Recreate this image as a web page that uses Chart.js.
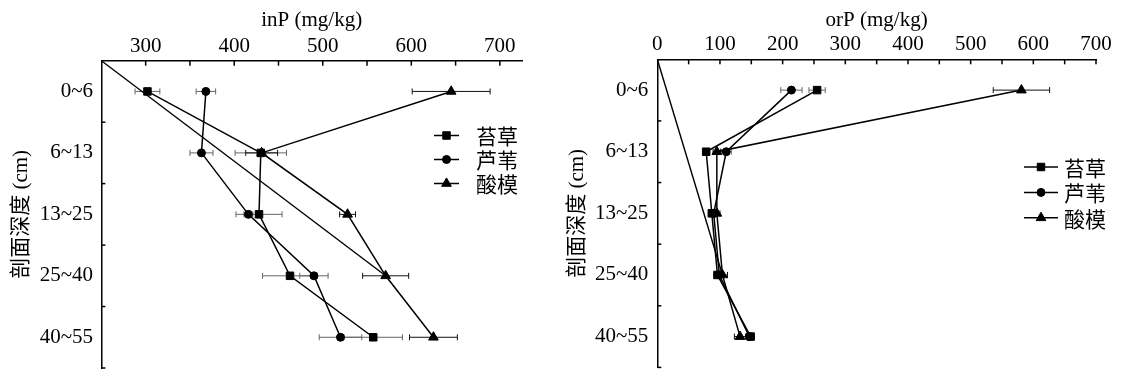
<!DOCTYPE html>
<html><head><meta charset="utf-8">
<script src="https://cdn.jsdelivr.net/npm/chart.js@4.4.0/dist/chart.umd.min.js"></script>
<style>
html,body{margin:0;padding:0;background:#fff;width:1125px;height:389px;overflow:hidden;}
canvas{position:absolute;top:0;}
#c1{left:0;}
#c2{left:560px;}
</style></head><body>
<canvas id="c1" width="560" height="389"></canvas>
<canvas id="c2" width="565" height="389"></canvas>
<script>
// ---------- data ----------
const depthLabels = ['0~6', '6~13', '13~25', '25~40', '40~55'];
const seriesNames = ['苔草', '芦苇', '酸模'];

const inPTicks = [300, 400, 500, 600, 700];
const orPTicks = [0, 100, 200, 300, 400, 500, 600, 700];

const inP_taicao = [302, 430, 428, 463, 557];
const inP_luwei  = [368, 363, 416, 490, 520];
const inP_suanmo = [645, 431, 528, 571, 625];
const inP_taicao_err = [14, 29, 26, 31, 33];
const inP_luwei_err  = [11, 13, 5, 16, 24];
const inP_suanmo_err = [44, 18, 9, 26, 27];

const orP_taicao = [255, 78, 87, 96, 149];
const orP_luwei  = [214, 110, 90, 99, 147];
const orP_suanmo = [581, 95, 95, 104, 132];
const orP_taicao_err = [13, 5, 4, 5, 5];
const orP_luwei_err  = [17, 8, 4, 5, 5];
const orP_suanmo_err = [45, 6, 5, 8, 9];

// ---------- styling ----------
const FONT = '"Liberation Serif", "Times New Roman", "Noto Sans CJK SC", serif';
const CJK = '"Noto Sans CJK SC", "Liberation Serif", serif';
const styles = [
  {pointStyle: 'rect', radius: 5.3},
  {pointStyle: 'circle', radius: 4},
  {pointStyle: 'triangle', radius: 5.6}
];
const errColors = ['#666', '#666', '#111'];

function pts(vals) { return vals.map((v, i) => ({x: v, y: i + 0.5})); }

const decor = {
  id: 'decor',
  beforeDatasetsDraw(chart, args, opts) {
    const ctx = chart.ctx, xs = chart.scales.x, ys = chart.scales.y;
    opts.values.forEach((vals, di) => {
      const errs = opts.errors[di];
      ctx.save();
      ctx.strokeStyle = errColors[di];
      ctx.lineWidth = 1;
      vals.forEach((v, i) => {
        const e = errs[i];
        if (!e) return;
        const y = ys.getPixelForValue(i + 0.5);
        const x1 = xs.getPixelForValue(v - e), x2 = xs.getPixelForValue(v + e);
        ctx.beginPath();
        ctx.moveTo(x1, y); ctx.lineTo(x2, y);
        ctx.moveTo(x1, y - 3); ctx.lineTo(x1, y + 3);
        ctx.moveTo(x2, y - 3); ctx.lineTo(x2, y + 3);
        ctx.stroke();
      });
      ctx.restore();
    });
  },
  afterDraw(chart, args, opts) {
    const ctx = chart.ctx, a = chart.chartArea, xs = chart.scales.x, ys = chart.scales.y;
    ctx.save();
    ctx.strokeStyle = '#000';
    ctx.lineWidth = 1.5;
    // inward minor/major ticks on top axis
    for (let v = xs.min; v <= xs.max + 1e-9; v += opts.minorStep) {
      const x = xs.getPixelForValue(v);
      if (x - a.left < 2) continue;
      ctx.beginPath(); ctx.moveTo(x, a.top); ctx.lineTo(x, a.top + 5); ctx.stroke();
    }
    // inward ticks at depth-band boundaries
    for (let i = 1; i <= depthLabels.length; i++) {
      const y = ys.getPixelForValue(i);
      ctx.beginPath(); ctx.moveTo(a.left, y); ctx.lineTo(a.left + 4, y); ctx.stroke();
    }
    // legend
    const L = opts.legend;
    seriesNames.forEach((name, i) => {
      const y = L.y + i * L.dy;
      ctx.strokeStyle = '#000'; ctx.lineWidth = 1.5;
      ctx.beginPath(); ctx.moveTo(L.x, y); ctx.lineTo(L.x + L.len, y); ctx.stroke();
      ctx.fillStyle = '#000'; ctx.lineWidth = 1;
      Chart.helpers.drawPoint(ctx, {pointStyle: styles[i].pointStyle, radius: styles[i].radius, borderWidth: 1, rotation: 0}, L.x + L.len / 2, y);
      ctx.font = '21px ' + CJK;
      ctx.textAlign = 'left'; ctx.textBaseline = 'middle';
      ctx.fillText(name, L.x + L.len + L.gap, y + 1);
    });
    ctx.restore();
  }
};

function makeChart(id, cfg) {
  const datasets = cfg.values.map((vals, i) => ({
    label: seriesNames[i],
    data: pts(vals),
    borderColor: '#000',
    backgroundColor: '#000',
    borderWidth: 1.5,
    pointStyle: styles[i].pointStyle,
    pointRadius: styles[i].radius,
    pointBorderWidth: 1,
    pointBackgroundColor: '#000',
    pointBorderColor: '#000',
    tension: 0
  }));
  // connector line drawn in the original figure from the axis corner to the 25~40 酸模 point
  datasets.push({
    label: '',
    data: [{x: cfg.xMin, y: 0}, {x: cfg.values[2][3], y: 3.5}],
    borderColor: '#000',
    borderWidth: 1.4,
    pointRadius: 0,
    tension: 0
  });
  return new Chart(document.getElementById(id), {
    type: 'line',
    data: {datasets},
    options: {
      responsive: false,
      animation: false,
      devicePixelRatio: 1,
      layout: {padding: cfg.padding},
      plugins: {
        legend: {display: false},
        tooltip: {enabled: false},
        decor: {values: cfg.values, errors: cfg.errors, minorStep: 50, legend: cfg.legend}
      },
      scales: {
        x: {
          type: 'linear', position: 'top', min: cfg.xMin, max: cfg.xMax,
          afterBuildTicks: s => { s.ticks = cfg.ticks.map(v => ({value: v})); },
          afterFit: s => { s.height = cfg.xAxisH; },
          grid: {display: false, drawTicks: false, tickLength: 0},
          border: {display: true, color: '#000', width: 1.5},
          ticks: {color: '#000', font: {family: FONT, size: 21}, padding: 2, maxRotation: 0, autoSkip: false},
          title: {display: true, text: cfg.xTitle, color: '#000', font: {family: FONT, size: 21}, padding: {top: 8, bottom: 0}}
        },
        y: {
          type: 'linear', min: 0, max: depthLabels.length, reverse: true,
          afterBuildTicks: s => { s.ticks = depthLabels.map((_, i) => ({value: i + 0.5})); },
          afterFit: s => { s.width = cfg.yAxisW; },
          grid: {display: false, drawTicks: false, tickLength: 0},
          border: {display: true, color: '#000', width: 1.5},
          ticks: {color: '#000', font: {family: FONT, size: 21}, padding: cfg.yTickPad, autoSkip: false,
                  callback: (v, i) => depthLabels[i]},
          title: {display: true, text: '剖面深度 (cm)', color: '#000', font: {family: FONT, size: 21},
                  padding: {top: cfg.yTitlePad, bottom: 0}}
        }
      }
    },
    plugins: [decor]
  });
}

makeChart('c1', {
  values: [inP_taicao, inP_luwei, inP_suanmo],
  errors: [inP_taicao_err, inP_luwei_err, inP_suanmo_err],
  ticks: inPTicks, xMin: 250, xMax: 725, xTitle: 'inP (mg/kg)',
  padding: {left: 0, top: 0, right: 38, bottom: 18.3},
  xAxisH: 60.7, yAxisW: 101.4, yTickPad: 8.4, yTitlePad: 8.4,
  legend: {x: 434, y: 135.5, dy: 24, len: 25, gap: 17}
});

makeChart('c2', {
  values: [orP_taicao, orP_luwei, orP_suanmo],
  errors: [orP_taicao_err, orP_luwei_err, orP_suanmo_err],
  ticks: orPTicks, xMin: 0, xMax: 700, xTitle: 'orP (mg/kg)',
  padding: {left: 0, top: 0, right: 29, bottom: 2.2},
  xAxisH: 59.3, yAxisW: 97.3, yTickPad: 9, yTitlePad: 4.4,
  legend: {x: 464, y: 167, dy: 25.4, len: 34, gap: 6}
});
</script>
</body></html>
